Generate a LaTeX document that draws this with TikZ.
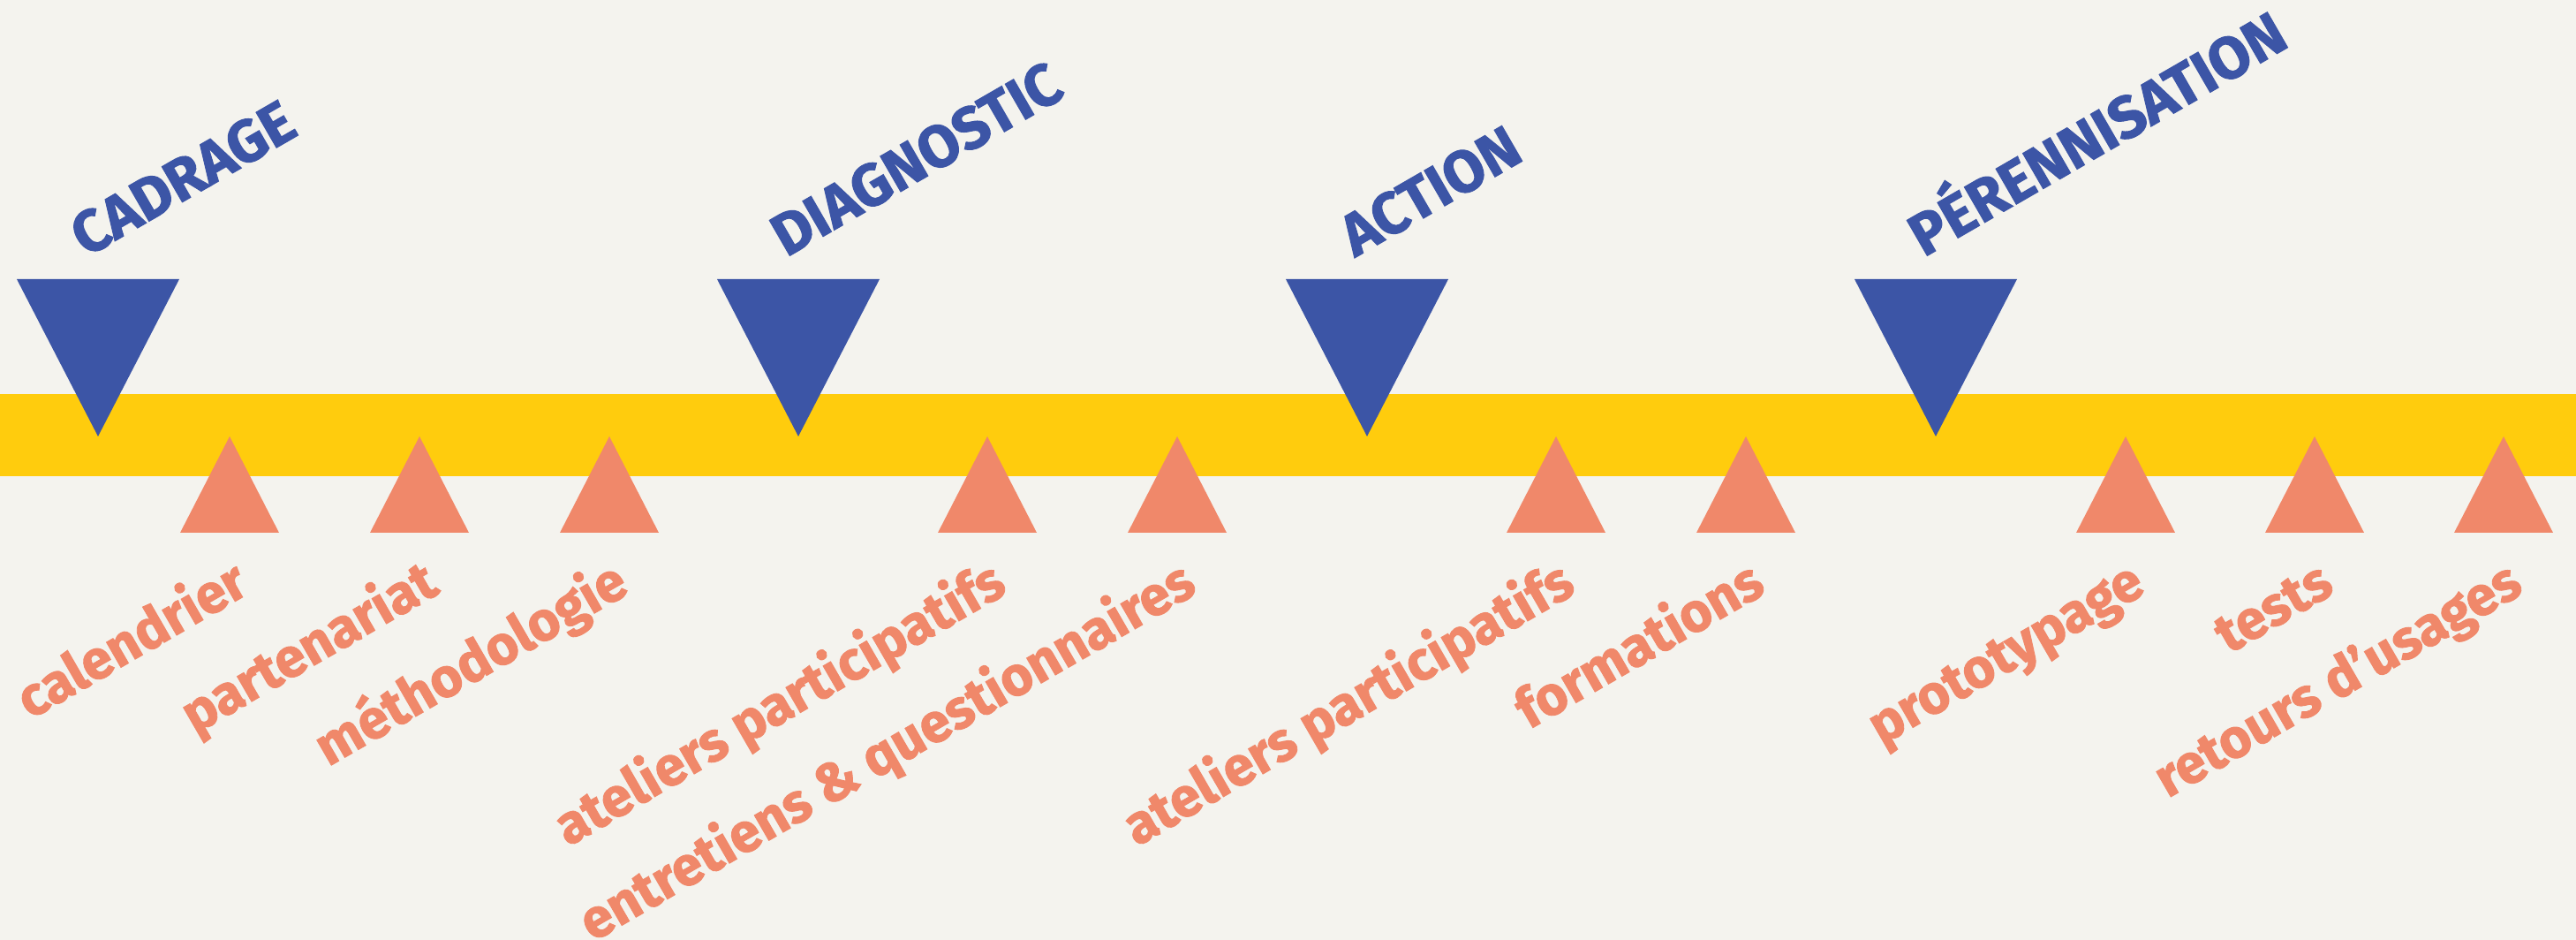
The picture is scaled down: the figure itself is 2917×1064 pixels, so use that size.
\documentclass[tikz,border=0pt]{standalone}
\usepackage{fontspec}
\setmainfont{Fira Sans}[BoldFeatures={FakeBold=1.5}]
\usepackage{tikz}
\usetikzlibrary{positioning}

\definecolor{fond}{HTML}{F4F3EE}
\definecolor{jaune}{HTML}{FFCC0D}
\definecolor{bleu}{HTML}{3C55A6}
\definecolor{saumon}{HTML}{F0886A}

\begin{document}
\begin{tikzpicture}[x=0.01cm, y=-0.01cm,
        phase/.style={text=bleu, font=\bfseries\fontsize{19pt}{20pt}\selectfont, rotate=30, anchor=base west, inner sep=0pt},
        tache/.style={text=saumon, font=\bfseries\fontsize{17.6pt}{19pt}\selectfont, rotate=30, anchor=base east, inner sep=0pt}]
        % Background and band
        \useasboundingbox (0,0) rectangle (2917,1064);
        \clip (0,0) rectangle (2917,1064);
        \fill[fond] (0,0) rectangle (2917,1064);
        \fill[jaune] (0,446) rectangle (2917,539);

        % Phases (blue)
        \foreach \x/\nom/\txt in {111/cadrage/CADRAGE, 904/diagnostic/DIAGNOSTIC, 1548/action/ACTION, 2192/perennisation/PÉRENNISATION} {
            \fill[bleu] (\x-92,316) -- (\x+92,316) -- (\x,494) -- cycle;
            \node[phase] (\nom) at (\x-14,292) {\txt};
        }

        % Steps (orange)
        \foreach \x/\nom/\txt in {260/calendrier/calendrier, 475/partenariat/partenariat, 690/methodo/méthodologie,
                1118/ateliersA/ateliers participatifs, 1333/entretiens/entretiens \& questionnaires,
                1762/ateliersB/ateliers participatifs, 1977/formations/formations,
                2407/prototypage/prototypage, 2621/tests/tests, 2835/retours/retours d’usages} {
            \fill[saumon] (\x,494) -- (\x+56,603) -- (\x-56,603) -- cycle;
            \node[tache] (\nom) at (\x+25,670) {\txt};
        }
    \end{tikzpicture}
\end{document}
